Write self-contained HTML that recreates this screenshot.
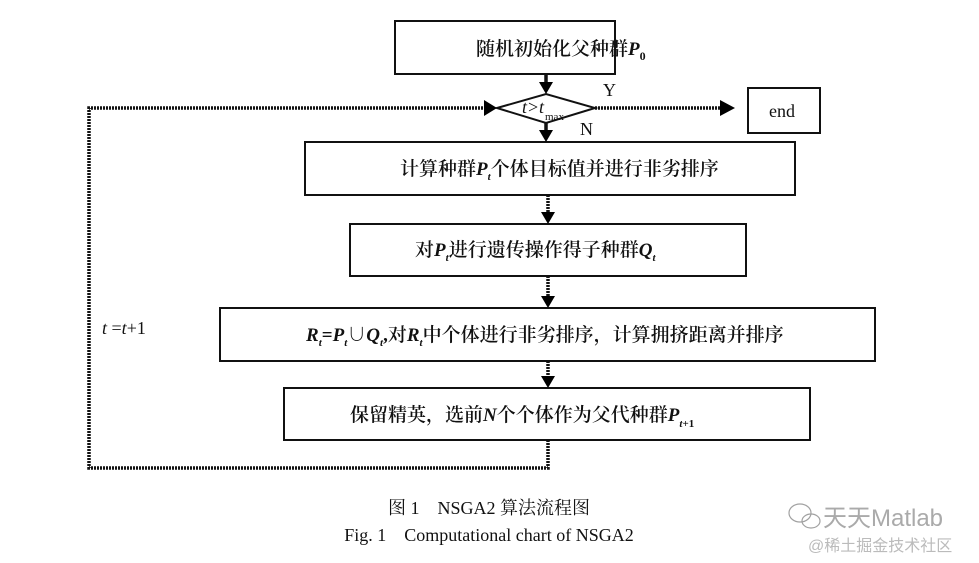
<!DOCTYPE html>
<html><head><meta charset="utf-8"><style>
body{margin:0;background:#fff}
svg text{font-family:"Liberation Serif","Noto Serif CJK SC",serif;fill:#111}
.cn{font-size:19px;font-weight:600}
.i{font-style:italic}
</style></head><body>
<svg width="979" height="558" viewBox="0 0 979 558" xmlns="http://www.w3.org/2000/svg">
<g fill="none" stroke="#111" stroke-width="2">
<rect x="395" y="21" width="220" height="53"/>
<rect x="748" y="88" width="72" height="45"/>
<rect x="305" y="142" width="490" height="53"/>
<rect x="350" y="224" width="396" height="52"/>
<rect x="220" y="308" width="655" height="53"/>
<rect x="284" y="388" width="526" height="52"/>
<path d="M497,108 L546,94 L595,108 L546,123Z"/>
</g>
<g stroke="#111" stroke-width="3.5" fill="none">
<line x1="546" y1="74" x2="546" y2="82"/>
<line x1="546" y1="123" x2="546" y2="130"/>
<line x1="548" y1="195" x2="548" y2="212" stroke-dasharray="2 1"/>
<line x1="548" y1="276" x2="548" y2="296" stroke-dasharray="2 1"/>
<line x1="548" y1="361" x2="548" y2="376" stroke-dasharray="2 1"/>
<polyline points="548,440 548,468 89,468 89,108 485,108" stroke-dasharray="2 1"/>
<line x1="595" y1="108" x2="722" y2="108" stroke-dasharray="2 1"/>
</g>
<g fill="#000">
<path d="M539,82 L553,82 L546,94Z"/>
<path d="M539,130 L553,130 L546,142Z"/>
<path d="M541,212 L555,212 L548,224Z"/>
<path d="M541,296 L555,296 L548,308Z"/>
<path d="M541,376 L555,376 L548,388Z"/>
<path d="M484,100 L497,108 L484,116Z"/>
<path d="M720,100 L735,108 L720,116Z"/>
</g>
<text x="476" y="55" class="cn">随机初始化父种群<tspan class="i">P</tspan><tspan font-size="12" dy="5">0</tspan></text>
<text x="522" y="113" font-size="18" class="i">t</text><text x="528" y="113" font-size="18">&gt;</text><text x="539" y="113" font-size="18" class="i">t</text>
<text x="545" y="120" font-size="11">max</text>
<text x="603" y="96" font-size="18">Y</text>
<text x="580" y="135" font-size="18">N</text>
<text x="769" y="117" font-size="18">end</text>
<text x="400" y="175" class="cn">计算种群<tspan class="i">P</tspan><tspan font-size="11" dy="5" class="i">t</tspan><tspan dy="-5">个体目标值并进行非劣排序</tspan></text>
<text x="415" y="256" class="cn">对<tspan class="i">P</tspan><tspan font-size="11" dy="5" class="i">t</tspan><tspan dy="-5">进行遗传操作得子种群</tspan><tspan class="i">Q</tspan><tspan font-size="11" dy="5" class="i">t</tspan></text>
<text x="306" y="341" class="cn"><tspan class="i">R</tspan><tspan font-size="11" dy="5" class="i">t</tspan><tspan dy="-5">=</tspan><tspan class="i">P</tspan><tspan font-size="11" dy="5" class="i">t</tspan><tspan dy="-5">∪</tspan><tspan class="i">Q</tspan><tspan font-size="11" dy="5" class="i">t</tspan><tspan dy="-5">,对</tspan><tspan class="i">R</tspan><tspan font-size="11" dy="5" class="i">t</tspan><tspan dy="-5">中个体进行非劣排序，计算拥挤距离并排序</tspan></text>
<text x="350" y="421" class="cn">保留精英，选前<tspan class="i">N</tspan>个个体作为父代种群<tspan class="i">P</tspan><tspan font-size="11" dy="6" class="i">t</tspan><tspan font-size="11">+1</tspan></text>
<text x="102" y="334" font-size="18"><tspan class="i">t</tspan> =<tspan class="i">t</tspan>+1</text>
<text x="489" y="514" font-size="18" text-anchor="middle">图 1　NSGA2 算法流程图</text>
<text x="489" y="541" font-size="18" text-anchor="middle">Fig. 1　Computational chart of NSGA2</text>
<g opacity="0.55" stroke="#555" fill="none" stroke-width="1.2">
<ellipse cx="800" cy="513" rx="11" ry="9"/><ellipse cx="811" cy="521" rx="9" ry="7"/>
</g>
<text x="823" y="526" font-size="24" style="font-family:'Liberation Sans','Noto Sans CJK SC',sans-serif;fill:#aaa">天天Matlab</text>
<text x="808" y="551" font-size="16" style="font-family:'Liberation Sans','Noto Sans CJK SC',sans-serif;fill:#bbb">@稀土掘金技术社区</text>
</svg>
</body></html>
